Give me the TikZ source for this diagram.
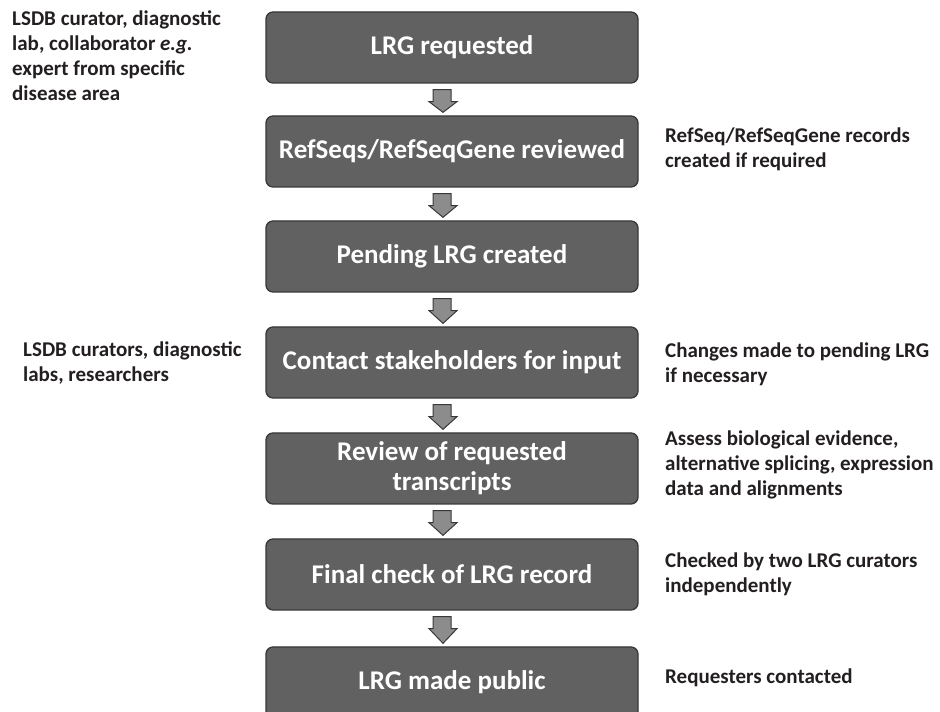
\documentclass[tikz,border=0pt]{standalone}
\usepackage{fontspec}
\setmainfont{Carlito}
\usetikzlibrary{calc}
\definecolor{boxfill}{HTML}{616161}
\definecolor{boxline}{HTML}{383838}
\definecolor{arrfill}{HTML}{8C8C8C}
\definecolor{notetxt}{HTML}{231F20}
\newcommand\flowarrow[2]{%
  \draw[blockarrow] ($(#1.south)+(-19,-6)$) -- ++(18,0) -- ++(0,-12) -- ++(6,0)
    -- ($(#2.north)+(-9,3)$) -- ($(#1.south)+(-23,-18)$) -- ++(4,0) -- cycle;}
\begin{document}
\begin{tikzpicture}[x=1pt,y=1pt,
  stepbox/.style={draw=boxline, line width=1.3pt, fill=boxfill, rounded corners=7pt,
    minimum width=372pt, minimum height=71pt, text=white,
    font=\fontsize{27}{30}\selectfont\bfseries, align=center, inner sep=0pt},
  note/.style={text=notetxt, font=\fontsize{21}{25}\selectfont\bfseries, align=left, inner sep=0pt, anchor=base west},
  blockarrow/.style={draw=boxline, line width=1pt, fill=arrfill, line join=miter}]
\clip (0,0) rectangle (940,712);
\node[stepbox] (b1) at (452,664.5) {LRG requested};
\node[stepbox] (b2) at (452,560.5) {RefSeqs/RefSeqGene reviewed};
\node[stepbox] (b3) at (452,455.5) {Pending LRG created};
\node[stepbox] (b4) at (452,349.5) {Contact stakeholders for input};
\node[stepbox] (b5) at (452,243.5) {Review of requested\\transcripts};
\node[stepbox] (b6) at (452,137.5) {Final check of LRG record};
\node[stepbox] (b7) at (452,29.5) {LRG made public};
\flowarrow{b1}{b2}
\flowarrow{b2}{b3}
\flowarrow{b3}{b4}
\flowarrow{b4}{b5}
\flowarrow{b5}{b6}
\flowarrow{b6}{b7}
\node[note] (l1) at (12,611) {LSDB curator, diagnostic\\lab, collaborator \textit{e.g.}\\expert from specific\\disease area};
\node[note] (l4) at (23,330) {LSDB curators, diagnostic\\labs, researchers};
\node[note] (n2) at (665,544) {RefSeq/RefSeqGene records\\created if required};
\node[note] (n4) at (665,329) {Changes made to pending LRG\\if necessary};
\node[note] (n5) at (665,216) {Assess biological evidence,\\alternative splicing, expression\\data and alignments};
\node[note] (n6) at (665,119) {Checked by two LRG curators\\independently};
\node[note] (n7) at (665,28) {Requesters contacted};
\end{tikzpicture}
\end{document}
